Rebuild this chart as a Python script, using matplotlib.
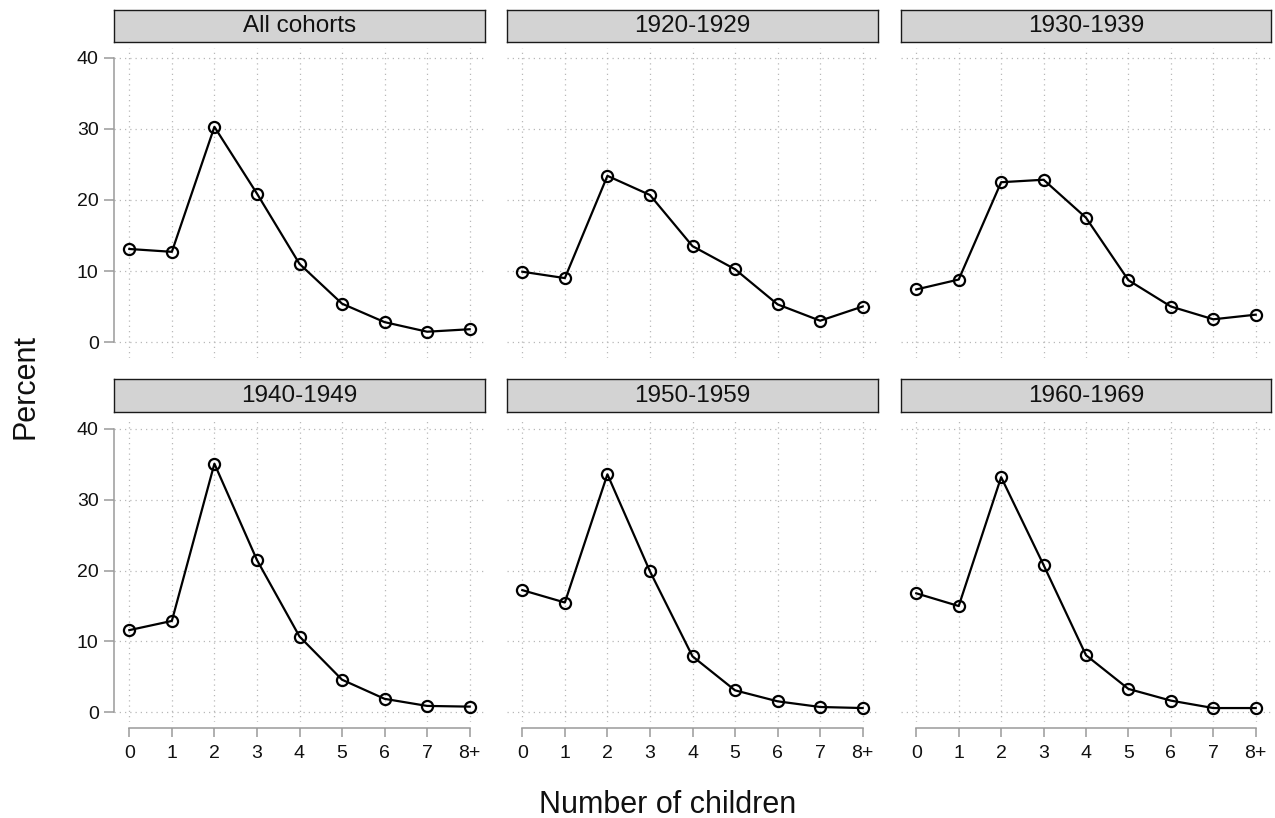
import matplotlib
matplotlib.use("Agg")
import matplotlib.pyplot as plt

plt.rcParams['font.family'] = ['Liberation Sans', 'DejaVu Sans']

# Share of respondents by number of children, per birth cohort
categories = ["0", "1", "2", "3", "4", "5", "6", "7", "8+"]
panel_titles = ["All cohorts", "1920-1929", "1930-1939",
                "1940-1949", "1950-1959", "1960-1969"]
all_cohorts = [13.1, 12.7, 30.3, 20.9, 11.0, 5.4, 2.8, 1.45, 1.8]
cohort_1920 = [9.9, 9.0, 23.4, 20.7, 13.5, 10.25, 5.3, 3.0, 5.0]
cohort_1930 = [7.4, 8.8, 22.5, 22.85, 17.5, 8.7, 5.0, 3.2, 3.85]
cohort_1940 = [11.6, 12.9, 35.1, 21.5, 10.7, 4.6, 1.9, 0.9, 0.8]
cohort_1950 = [17.25, 15.5, 33.6, 19.9, 7.9, 3.1, 1.55, 0.75, 0.6]
cohort_1960 = [16.8, 15.0, 33.2, 20.8, 8.06, 3.3, 1.65, 0.6, 0.6]
series = [all_cohorts, cohort_1920, cohort_1930,
          cohort_1940, cohort_1950, cohort_1960]
y_ticks = [0, 10, 20, 30, 40]

W, H = 1275, 818
fig = plt.figure(figsize=(W / 100, H / 100), dpi=100)


def add_px_axes(left, top, right, bottom):
    return fig.add_axes([left / W, 1 - bottom / H,
                         (right - left) / W, (bottom - top) / H])


col_edges = [(114, 485), (507, 878), (901, 1271)]
row_strip = [(10, 42), (379, 412)]
row_panel = [(48, 358), (418, 722)]
row_ylim = [(-2.25, 41.4), (-1.37, 41.55)]

spine_col = '#9a9a9a'
grid_col = '#b8b8b8'
x = list(range(len(categories)))

for i, (title, vals) in enumerate(zip(panel_titles, series)):
    r, c = divmod(i, 3)
    left, right = col_edges[c]

    # strip header
    sax = add_px_axes(left, row_strip[r][0], right, row_strip[r][1])
    sax.set_facecolor('#d3d3d3')
    sax.set_xticks([])
    sax.set_yticks([])
    for sp in sax.spines.values():
        sp.set_color('#1a1a1a')
        sp.set_linewidth(1.0)
    sax.text(0.5, 0.5, title, ha='center', va='center',
             fontsize=17.5, color='#111111', transform=sax.transAxes)

    ax = add_px_axes(left, row_panel[r][0], right, row_panel[r][1])
    ax.set_xlim(-0.36, 8.36)
    ax.set_ylim(*row_ylim[r])
    ax.set_xticks(x)
    ax.set_yticks(y_ticks)
    ax.grid(True, color=grid_col, linewidth=0.9, linestyle=(0, (1, 3.2)))
    ax.set_axisbelow(True)
    for sp in ['top', 'right']:
        ax.spines[sp].set_visible(False)

    ax.plot(x, vals, color='black', linewidth=1.6, marker='o',
            markersize=8, markerfacecolor='none',
            markeredgecolor='black', markeredgewidth=1.6, zorder=3)

    # y axis only on the first column
    if c == 0:
        ax.spines['left'].set_color(spine_col)
        ax.spines['left'].set_linewidth(1.1)
        ax.spines['left'].set_bounds(0, 40)
        ax.tick_params(axis='y', length=7, width=1.1, color=spine_col,
                       pad=4, labelsize=14, labelcolor='#111111')
    else:
        ax.spines['left'].set_visible(False)
        ax.tick_params(axis='y', length=0, labelleft=False)

    # x axis only on the bottom row
    if r == 1:
        ax.spines['bottom'].set_position(('outward', 4.3))
        ax.spines['bottom'].set_color(spine_col)
        ax.spines['bottom'].set_linewidth(1.1)
        ax.spines['bottom'].set_bounds(0, 8)
        ax.set_xticklabels(categories)
        ax.tick_params(axis='x', length=6.5, width=1.1, color=spine_col,
                       pad=6, labelsize=14, labelcolor='#111111')
    else:
        ax.spines['bottom'].set_visible(False)
        ax.tick_params(axis='x', length=0, labelbottom=False)

fig.text(26 / W, 1 - 387 / H, "Percent", rotation=90, ha='center',
         va='center', fontsize=22, color='#111111')
fig.text(668 / W, 1 - 813 / H, "Number of children", ha='center',
         va='baseline', fontsize=22, color='#111111')

fig.savefig("out.png", dpi=100)
